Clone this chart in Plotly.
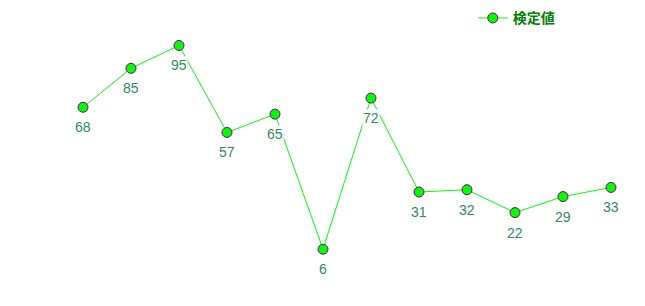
import plotly.graph_objects as go

categories = list(range(12))
values = [68, 85, 95, 57, 65, 6, 72, 31, 32, 22, 29, 33]
series_name = "検定値"

fig = go.Figure()
fig.add_trace(go.Scatter(
    x=categories, y=values, mode="lines+markers", name=series_name,
    line=dict(color="#00FF00", width=1),
    marker=dict(size=10, color="#00FF00", line=dict(color="#800080", width=1)),
    hoverinfo="skip",
))

for xi, yi in zip(categories, values):
    fig.add_annotation(
        x=xi, y=yi, text=str(yi), showarrow=False, yshift=-20,
        font=dict(family="Liberation Sans, Arial, sans-serif", size=14, color="#2E8B57"),
        bgcolor="white", borderpad=0,
    )

fig.update_layout(
    width=645, height=306,
    margin=dict(l=59, r=10, t=33.5, b=43.25, autoexpand=False),
    paper_bgcolor="white", plot_bgcolor="white",
    xaxis=dict(range=[-0.5, 11.5], visible=False),
    yaxis=dict(range=[0, 100], visible=False),
    showlegend=True,
    legend=dict(
        x=0.733, y=0.94, xanchor="left", yanchor="middle", xref="container", yref="container",
        font=dict(family="Noto Sans CJK JP", size=14, color="#008000", weight="bold"),
        itemwidth=30,
        bgcolor="rgba(0,0,0,0)", borderwidth=0,
    ),
)

fig.write_html("out.html")
